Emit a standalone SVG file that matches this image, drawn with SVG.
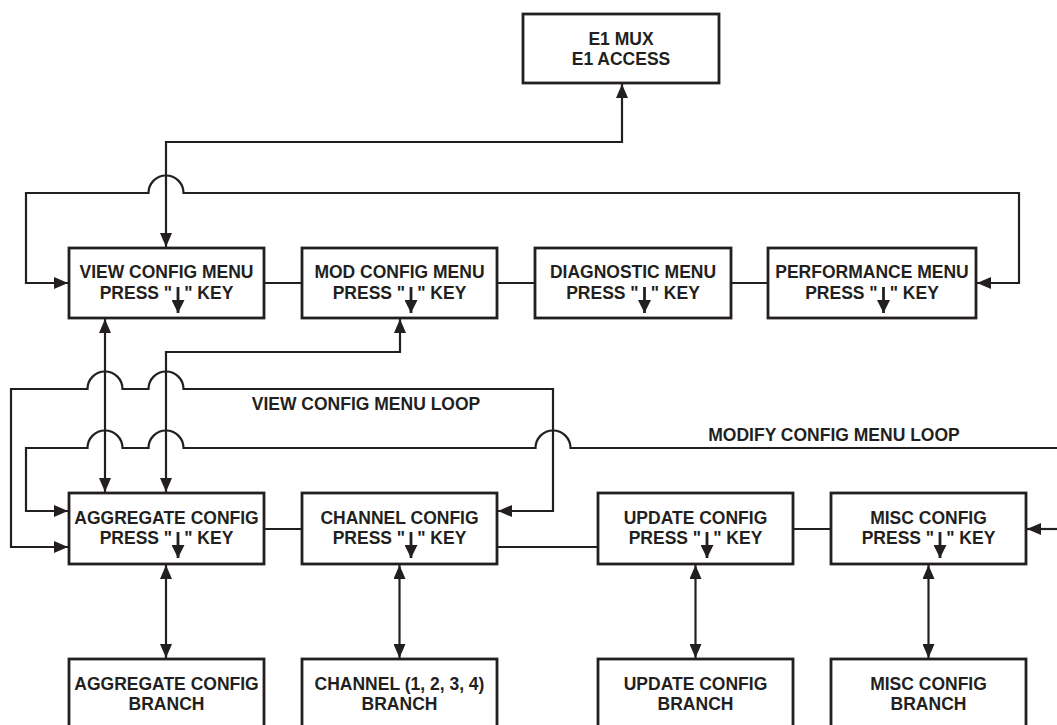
<svg xmlns="http://www.w3.org/2000/svg" width="1057" height="725" viewBox="0 0 1057 725">
<defs>
<style>
.box{fill:#fff;stroke:#231f20;stroke-width:2.8}
.ln{fill:none;stroke:#231f20;stroke-width:2.2}
.ka{fill:none;stroke:#231f20;stroke-width:2.8}
.t{font-family:"Liberation Sans",Arial,sans-serif;font-weight:bold;font-size:17.5px;fill:#231f20;text-anchor:middle}
</style>
<marker id="ah" markerUnits="userSpaceOnUse" markerWidth="14" markerHeight="12" refX="14" refY="6" orient="auto-start-reverse">
<path d="M0,0 L14,6 L0,12 z" fill="#231f20"/>
</marker>
<marker id="kh" markerUnits="userSpaceOnUse" markerWidth="13" markerHeight="13" refX="13" refY="6.5" orient="auto">
<path d="M0,0 L13,6.5 L0,13 z" fill="#231f20"/>
</marker>
</defs>
<rect width="1057" height="725" fill="#fff"/>
<g id="connectors">
<path class="ln" d="M622,84 V142 H166 V247" marker-start="url(#ah)" marker-end="url(#ah)"/>
<path class="ln" d="M68,283 H26 V193 H148.5 A17.5 17.5 0 0 1 183.5 193 H1019 V283 H977" marker-start="url(#ah)" marker-end="url(#ah)"/>
<path class="ln" d="M264,283 H302 M497,283 H535 M731,283 H768"/>
<path class="ln" d="M105,319 V492" marker-start="url(#ah)" marker-end="url(#ah)"/>
<path class="ln" d="M400,319 V352 H166 V492" marker-start="url(#ah)" marker-end="url(#ah)"/>
<path class="ln" d="M68,547 H11 V389 H87.5 A17.5 17.5 0 0 1 122.5 389 H148.5 A17.5 17.5 0 0 1 183.5 389 H553 V511 H498" marker-start="url(#ah)" marker-end="url(#ah)"/>
<path class="ln" d="M68,511 H26 V448 H87.5 A17.5 17.5 0 0 1 122.5 448 H148.5 A17.5 17.5 0 0 1 183.5 448 H535.5 A17.5 17.5 0 0 1 570.5 448 H1057" marker-start="url(#ah)"/>
<path class="ln" d="M1057,529 H1027" marker-end="url(#ah)"/>
<path class="ln" d="M264,529 H302 M497,547 H597 M793,529 H831"/>
<path class="ln" d="M166,565 V658" marker-start="url(#ah)" marker-end="url(#ah)"/>
<path class="ln" d="M399.5,565 V658" marker-start="url(#ah)" marker-end="url(#ah)"/>
<path class="ln" d="M695.5,565 V658" marker-start="url(#ah)" marker-end="url(#ah)"/>
<path class="ln" d="M928.5,565 V658" marker-start="url(#ah)" marker-end="url(#ah)"/>
<text class="t" x="366" y="410">VIEW CONFIG MENU LOOP</text>
<text class="t" x="834" y="441">MODIFY CONFIG MENU LOOP</text>
</g>
<g id="e1">
<rect class="box" x="523" y="14" width="196" height="69"/>
<text class="t" x="621" y="45">E1 MUX</text>
<text class="t" x="621" y="65">E1 ACCESS</text>
</g>
<g id="view-config">
<rect class="box" x="69" y="248" width="195" height="70"/>
<text class="t" x="166.5" y="278">VIEW CONFIG MENU</text>
<text class="t" x="166.5" y="299">PRESS "<tspan dx="12">" KEY</tspan></text>
<path class="ka" d="M178,287 V313" marker-end="url(#kh)"/>
</g>
<g id="mod-config">
<rect class="box" x="302" y="248" width="195" height="70"/>
<text class="t" x="399.5" y="278">MOD CONFIG MENU</text>
<text class="t" x="399.5" y="299">PRESS "<tspan dx="12">" KEY</tspan></text>
<path class="ka" d="M411,287 V313" marker-end="url(#kh)"/>
</g>
<g id="diagnostic">
<rect class="box" x="535" y="248" width="196" height="70"/>
<text class="t" x="633" y="278">DIAGNOSTIC MENU</text>
<text class="t" x="633" y="299">PRESS "<tspan dx="12">" KEY</tspan></text>
<path class="ka" d="M644.5,287 V313" marker-end="url(#kh)"/>
</g>
<g id="performance">
<rect class="box" x="768" y="248" width="208" height="70"/>
<text class="t" x="872" y="278">PERFORMANCE MENU</text>
<text class="t" x="872" y="299">PRESS "<tspan dx="12">" KEY</tspan></text>
<path class="ka" d="M883.5,287 V313" marker-end="url(#kh)"/>
</g>
<g id="aggregate">
<rect class="box" x="69" y="493" width="195" height="71"/>
<text class="t" x="166.5" y="524">AGGREGATE CONFIG</text>
<text class="t" x="166.5" y="544">PRESS "<tspan dx="12">" KEY</tspan></text>
<path class="ka" d="M178,532 V558" marker-end="url(#kh)"/>
</g>
<g id="channel">
<rect class="box" x="302" y="493" width="195" height="71"/>
<text class="t" x="399.5" y="524">CHANNEL CONFIG</text>
<text class="t" x="399.5" y="544">PRESS "<tspan dx="12">" KEY</tspan></text>
<path class="ka" d="M411,532 V558" marker-end="url(#kh)"/>
</g>
<g id="update">
<rect class="box" x="598" y="493" width="195" height="71"/>
<text class="t" x="695.5" y="524">UPDATE CONFIG</text>
<text class="t" x="695.5" y="544">PRESS "<tspan dx="12">" KEY</tspan></text>
<path class="ka" d="M707,532 V558" marker-end="url(#kh)"/>
</g>
<g id="misc">
<rect class="box" x="831" y="493" width="195" height="71"/>
<text class="t" x="928.5" y="524">MISC CONFIG</text>
<text class="t" x="928.5" y="544">PRESS "<tspan dx="12">" KEY</tspan></text>
<path class="ka" d="M940,532 V558" marker-end="url(#kh)"/>
</g>
<g id="aggregate-branch">
<rect class="box" x="69" y="659" width="195" height="90"/>
<text class="t" x="166.5" y="690">AGGREGATE CONFIG</text>
<text class="t" x="166.5" y="710">BRANCH</text>
</g>
<g id="channel-branch">
<rect class="box" x="302" y="659" width="195" height="90"/>
<text class="t" x="399.5" y="690">CHANNEL (1, 2, 3, 4)</text>
<text class="t" x="399.5" y="710">BRANCH</text>
</g>
<g id="update-branch">
<rect class="box" x="598" y="659" width="195" height="90"/>
<text class="t" x="695.5" y="690">UPDATE CONFIG</text>
<text class="t" x="695.5" y="710">BRANCH</text>
</g>
<g id="misc-branch">
<rect class="box" x="831" y="659" width="195" height="90"/>
<text class="t" x="928.5" y="690">MISC CONFIG</text>
<text class="t" x="928.5" y="710">BRANCH</text>
</g>
</svg>
